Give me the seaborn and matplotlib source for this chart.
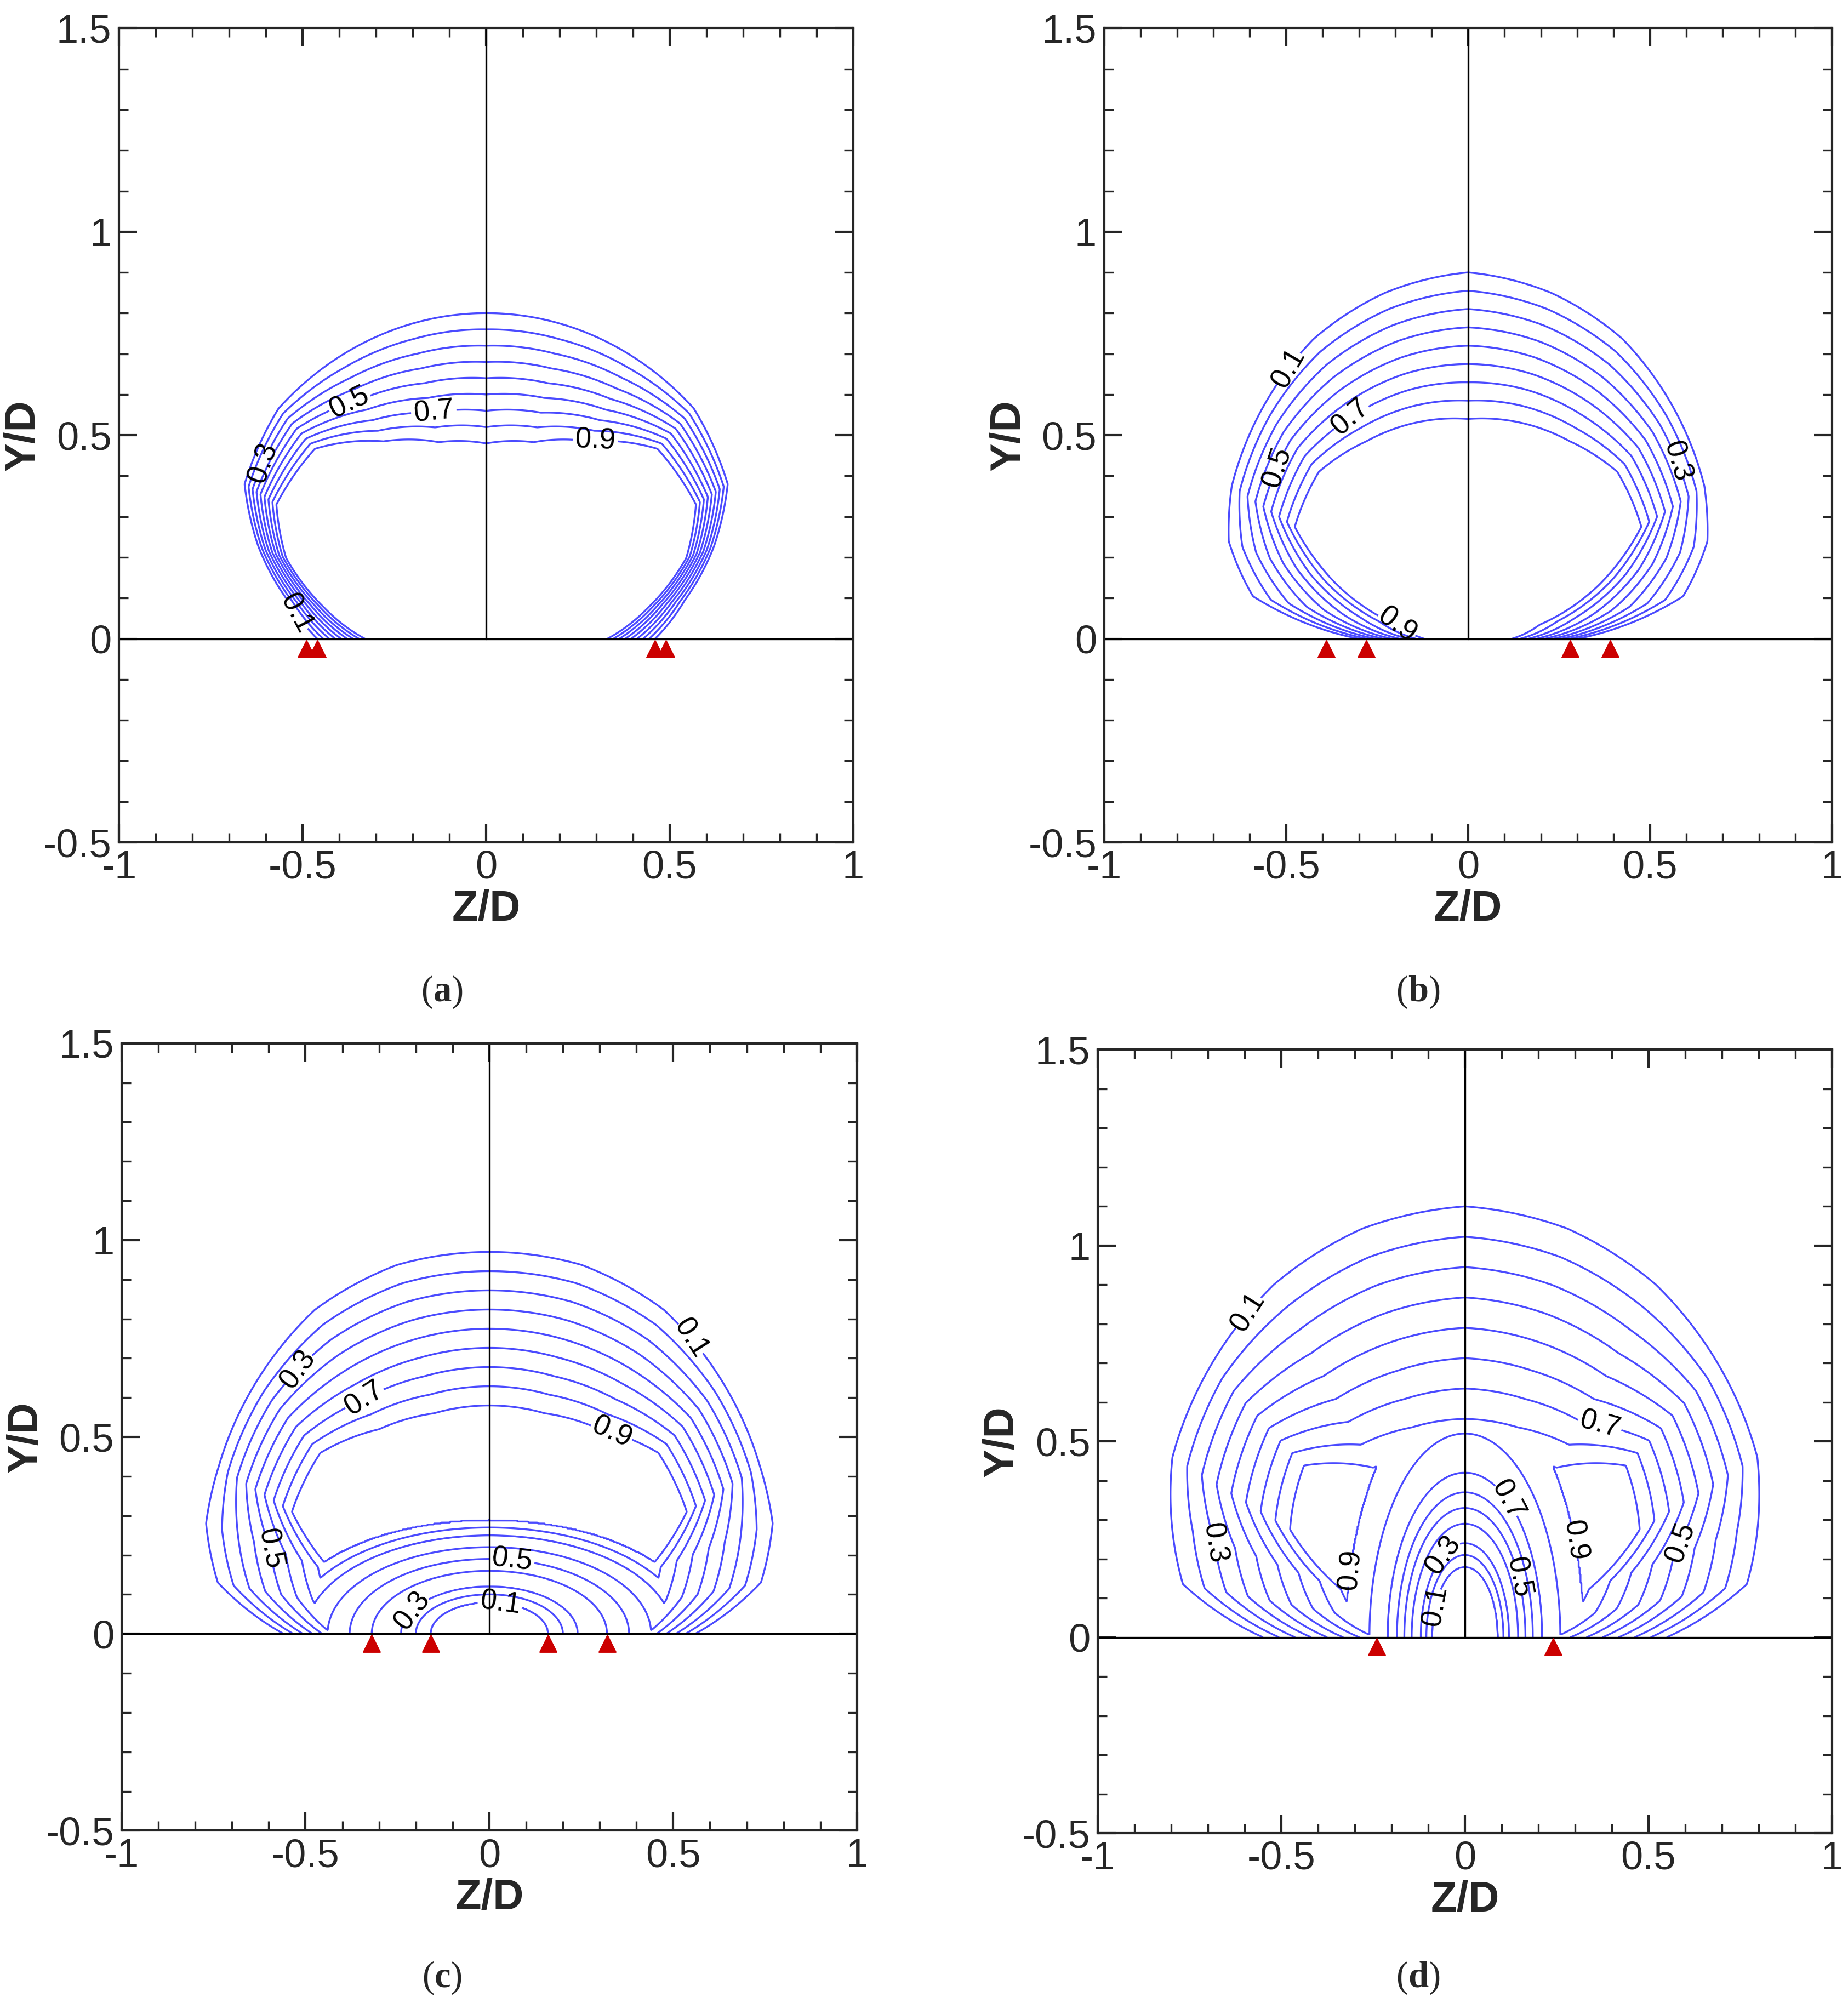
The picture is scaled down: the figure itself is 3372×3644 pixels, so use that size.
import numpy as np
import matplotlib
matplotlib.use("Agg")
import matplotlib.pyplot as plt
import seaborn as sns
import pandas as pd
from matplotlib.ticker import MultipleLocator, FuncFormatter

sns.set_style("ticks")
plt.rcParams['font.family'] = ['Liberation Sans', 'DejaVu Sans']
plt.rcParams['mathtext.fontset'] = 'custom'
plt.rcParams['mathtext.rm'] = 'Liberation Serif'
plt.rcParams['mathtext.bf'] = 'Liberation Serif:bold'

# --- data ---
levels = [0.1, 0.2, 0.3, 0.4, 0.5, 0.6, 0.7, 0.8, 0.9]
label_levels = [0.1, 0.3, 0.5, 0.7, 0.9]
phi_deg = [0, 10, 20, 30, 45, 60, 75, 90]
# radius of 0.1 contour (outer) and 0.9 contour (inner) vs angle
r_outer = {
    'a': [0.46, 0.55, 0.66, 0.76, 0.80, 0.80, 0.80, 0.80],
    'b': [0.30, 0.60, 0.70, 0.75, 0.80, 0.85, 0.88, 0.90],
    'c': [0.56, 0.75, 0.82, 0.85, 0.90, 0.95, 0.97, 0.97],
    'd': [0.55, 0.78, 0.85, 0.92, 0.98, 1.04, 1.08, 1.10],
}
r_inner = {
    'a': [0.33, 0.45, 0.58, 0.66, 0.66, 0.56, 0.50, 0.48],
    'b': [0.12, 0.20, 0.38, 0.55, 0.58, 0.56, 0.55, 0.54],
    'c': [0.35, 0.40, 0.45, 0.62, 0.65, 0.60, 0.58, 0.58],
    'd': [0.20, 0.30, 0.36, 0.55, 0.62, 0.50, 0.48, 0.48],
}
# central low-value core (panels c, d): elliptical radius -> value
core_aspect = {'c': 2.0, 'd': 0.5}
core_r = {'c': [0.0, 0.08, 0.12, 0.16, 0.19, 0.22, 0.25, 0.27, 0.29],
          'd': [0.0, 0.18, 0.24, 0.29, 0.33, 0.37, 0.42, 0.52, 0.65]}
core_val = [0.0, 0.1, 0.3, 0.4, 0.5, 0.6, 0.7, 0.8, 0.9]
markers_z = {'a': [-0.49, -0.46, 0.46, 0.49],
             'b': [-0.39, -0.28, 0.28, 0.39],
             'c': [-0.32, -0.16, 0.16, 0.32],
             'd': [-0.24, 0.24]}
captions = {'a': 'a', 'b': 'b', 'c': 'c', 'd': 'd'}

W, H = 1443.0, 1560.0
boxes = {'a': (93, 22, 666, 658), 'b': (862, 22, 1430, 658),
         'c': (95, 815, 669, 1430), 'd': (857, 820, 1430, 1432)}
cap_pos = {'a': (345, 775), 'b': (1107, 775), 'c': (345, 1545), 'd': (1107, 1545)}

fig = plt.figure(figsize=(3373/200, 3644/200), dpi=200)

z = np.linspace(-1, 1, 801)
y = np.linspace(0, 1.5, 601)
Z, Y = np.meshgrid(z, y)
R = np.hypot(Z, Y)
PHI = np.degrees(np.arctan2(Y, np.abs(Z)))

fmt = FuncFormatter(lambda v, p: ('%g' % round(v, 2)))
for k in ['a', 'b', 'c', 'd']:
    x0, y0, x1, y1 = boxes[k]
    ax = fig.add_axes([x0/W, 1 - y1/H, (x1-x0)/W, (y1-y0)/H])
    ro = np.interp(PHI, phi_deg, r_outer[k])
    ri = np.interp(PHI, phi_deg, r_inner[k])
    F = 0.1 + 0.8*(ro - R)/(ro - ri)
    if k in core_aspect:
        re = np.hypot(Z/core_aspect[k], Y)
        Fc = np.interp(re, core_r[k], core_val, right=1.5)
        F = np.minimum(F, Fc)
    F = np.clip(F, 0, 1.2)
    cs = ax.contour(Z, Y, F, levels=levels, colors='#4a4aff', linewidths=1.2)
    lab = [l for l in cs.levels if round(l, 1) in label_levels]
    ax.clabel(cs, levels=lab, fmt='%.1f', fontsize=19, colors='black', inline=True)
    ax.axhline(0, color='black', lw=1.2)
    ax.plot([0, 0], [0, 1.5], color='black', lw=1.2)
    df = pd.DataFrame({'z': markers_z[k], 'y': [-0.025]*len(markers_z[k])})
    sns.scatterplot(data=df, x='z', y='y', marker='^', color='#cc0000', s=120,
                    edgecolor='#cc0000', ax=ax, zorder=5, legend=False)
    ax.set_xlim(-1, 1)
    ax.set_ylim(-0.5, 1.5)
    ax.xaxis.set_major_locator(MultipleLocator(0.5))
    ax.yaxis.set_major_locator(MultipleLocator(0.5))
    ax.xaxis.set_minor_locator(MultipleLocator(0.1))
    ax.yaxis.set_minor_locator(MultipleLocator(0.1))
    ax.xaxis.set_major_formatter(fmt)
    ax.yaxis.set_major_formatter(fmt)
    ax.tick_params(which='both', direction='in', top=True, right=True, labelsize=26)
    ax.tick_params(which='major', length=12, width=1.5, pad=5)
    ax.tick_params(which='minor', length=6, width=1.2)
    for s in ax.spines.values():
        s.set_linewidth(1.5)
    ax.set_xlabel('Z/D', fontsize=28, fontweight='bold', labelpad=2)
    ax.set_ylabel('Y/D', fontsize=28, fontweight='bold', labelpad=0)
    cx, cy = cap_pos[k]
    fig.text(cx/W, 1 - cy/H, r'$\mathrm{(}\mathbf{%s}\mathrm{)}$' % captions[k],
             ha='center', va='center', fontsize=24)

fig.savefig('out.png', dpi=200)
